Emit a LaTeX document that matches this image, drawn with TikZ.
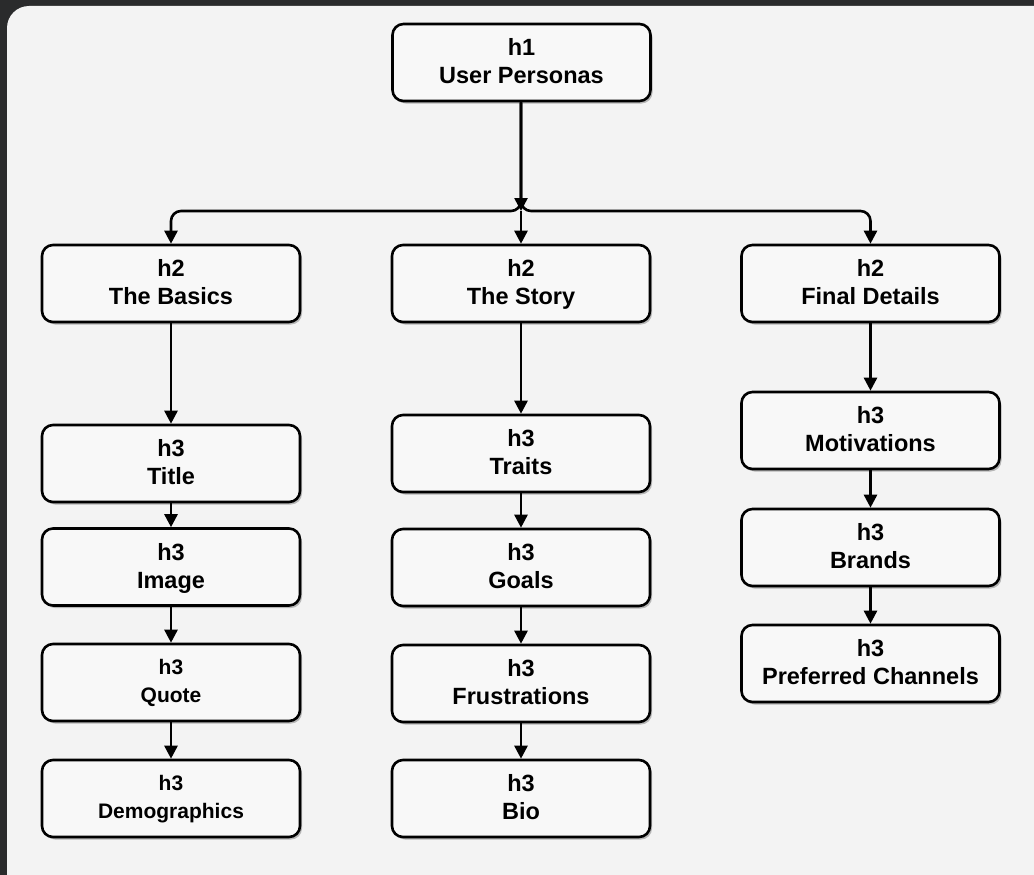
\documentclass[tikz,border=0pt]{standalone}
\usepackage{fontspec}
\setmainfont{Liberation Sans}
\usetikzlibrary{arrows.meta,shadows}
\definecolor{bgdark}{HTML}{2A2B2C}
\definecolor{panel}{HTML}{F3F3F3}
\definecolor{boxfill}{HTML}{F8F8F8}
\tikzset{
	hbox/.style={draw=black, line width=2.6pt, fill=boxfill, rounded corners=11pt,
		minimum width=258pt, minimum height=77pt, align=center, inner sep=0pt,
		font=\bfseries\fontsize{23.5}{28}\selectfont, text depth=3pt,
		drop shadow={shadow xshift=2pt, shadow yshift=-2.5pt, opacity=0.25, fill=black}},
	hsmall/.style={hbox, font=\bfseries\fontsize{21}{28}\selectfont},
	link/.style={line width=2.6pt, -{Triangle[width=13pt,length=13pt]}}
}
\begin{document}
\begin{tikzpicture}[x=1pt,y=-1pt]
		\useasboundingbox (0,0) rectangle (1034,875);
		\fill[bgdark] (0,0) rectangle (1034,875);
		\fill[panel, rounded corners=22pt] (7,6) rectangle (1070,910);
		% top
		\node[hbox] (persona) at (521.5,62.5) {h1\\User Personas};
		% second level
		\node[hbox] (basics) at (171,283.5) {h2\\The Basics};
		\node[hbox] (story) at (521,283.5) {h2\\The Story};
		\node[hbox] (details) at (870.5,283.5) {h2\\Final Details};
		% the basics
		\node[hbox] (title) at (171,463.5) {h3\\Title};
		\node[hbox] (image) at (171,567) {h3\\Image};
		\node[hsmall] (quote) at (171,682.5) {h3\\Quote};
		\node[hsmall] (demo) at (171,798.5) {h3\\Demographics};
		% the story
		\node[hbox] (traits) at (521,453.5) {h3\\Traits};
		\node[hbox] (goals) at (521,567.5) {h3\\Goals};
		\node[hbox] (frust) at (521,683.5) {h3\\Frustrations};
		\node[hbox] (bio) at (521,798.5) {h3\\Bio};
		% final details
		\node[hbox] (motiv) at (870.5,430.5) {h3\\Motivations};
		\node[hbox] (brands) at (870.5,547.5) {h3\\Brands};
		\node[hbox] (channels) at (870.5,663.5) {h3\\Preferred Channels};
		% connectors
		\coordinate (hub) at (521,211);
		\draw[link] (persona.south -| hub) -- (hub);
		\draw[link] (hub) -- (story);
		\draw[link, rounded corners=10pt] (persona.south -| hub) |- (basics.north |- hub) -- (basics);
		\draw[link, rounded corners=10pt] (persona.south -| hub) |- (details.north |- hub) -- (details);
		\draw[link] (basics) -- (title);
		\draw[link] (title) -- (image);
		\draw[link] (image) -- (quote);
		\draw[link] (quote) -- (demo);
		\draw[link] (story) -- (traits);
		\draw[link] (traits) -- (goals);
		\draw[link] (goals) -- (frust);
		\draw[link] (frust) -- (bio);
		\draw[link] (details) -- (motiv);
		\draw[link] (motiv) -- (brands);
		\draw[link] (brands) -- (channels);
	\end{tikzpicture}
\end{document}
